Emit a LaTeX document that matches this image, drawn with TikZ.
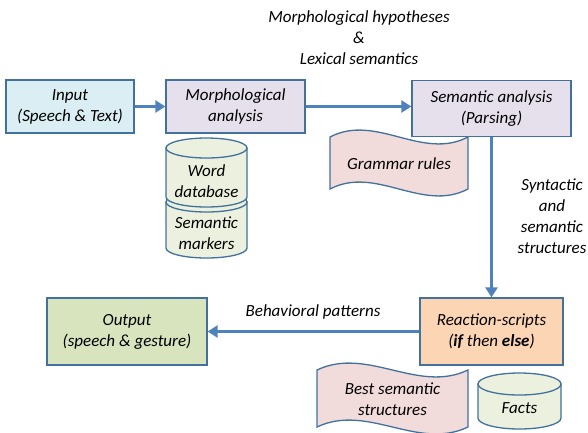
\documentclass[tikz,border=0pt]{standalone}
\usepackage{fontspec}
\setmainfont{Carlito}
\usetikzlibrary{arrows.meta}

\definecolor{boxline}{HTML}{41719C}
\definecolor{arrowblue}{HTML}{4F81BD}
\definecolor{inputfill}{HTML}{DBEEF4}
\definecolor{morphfill}{HTML}{E5E0EC}
\definecolor{cylfill}{HTML}{EBF1DE}
\definecolor{wavefill}{HTML}{F2DCDB}
\definecolor{reactfill}{HTML}{FCD5B5}
\definecolor{outputfill}{HTML}{D7E4BD}

\begin{document}
\begin{tikzpicture}[
    x=1pt, y=-1pt,
    every node/.style={font=\fontsize{17}{21}\selectfont\itshape, align=center},
    stepbox/.style={
        draw=boxline,
        line width=1.3pt,
        inner sep=0pt
    },
    shapeline/.style={draw=boxline, line width=1.3pt},
    flow/.style={draw=arrowblue, line width=3pt, -{Triangle[length=10pt,width=12pt]}}
]
\useasboundingbox (0,0) rectangle (588,432);

% ---------- macro to draw one wave (punched tape) shape ----------
% #1 = left x, #2 = right x, #3 = top y, #4 = bottom y
\newcommand{\wavebox}[4]{
    \pgfmathsetmacro{\wavea}{#1+(#2-#1)/3}
    \pgfmathsetmacro{\waveb}{#1+2*(#2-#1)/3}
    \path[shapeline, fill=wavefill] (#1,#3) .. controls (\wavea,#3-24) and (\waveb,#3+24) .. (#2,#3)
        -- (#2,#4) .. controls (\waveb,#4+24) and (\wavea,#4-24) .. (#1,#4) -- cycle;
}

% ---------- macro to draw one cylinder ----------
% #1 = left x, #2 = right x, #3 = top y, #4 = bottom y, #5 = ellipse radius
\newcommand{\cylinderbox}[5]{
    \pgfmathsetmacro{\cylmid}{(#1+#2)/2}
    \pgfmathsetmacro{\cylrad}{(#2-#1)/2}
    \path[shapeline, fill=cylfill] (#1,#3+#5) -- (#1,#4-#5)
        arc[start angle=180, end angle=360, x radius=\cylrad pt, y radius=#5pt]
        -- (#2,#3+#5) -- cycle;
    \path[shapeline, fill=cylfill] (\cylmid,#3+#5) ellipse[x radius=\cylrad pt, y radius=#5pt];
}

% ---------- top row ----------
\node[stepbox, fill=inputfill, minimum width=128pt, minimum height=53pt] (inputbox) at (70,106.5) {Input\\(Speech \& Text)};
\node[stepbox, fill=morphfill, minimum width=139pt, minimum height=53pt] (morph) at (235.5,106.5) {Morphological\\analysis};
\node[stepbox, fill=morphfill, minimum width=159pt, minimum height=56pt] (semantic) at (491.5,108.5) {Semantic analysis\\(Parsing)};

\node (hyplabel) at (359,37.5) {Morphological hypotheses\\\&\\Lexical semantics};

% ---------- databases and rules ----------
\cylinderbox{166}{247}{192}{258}{10}
\cylinderbox{166}{247}{138}{207}{10}
\node (worddb) at (206.5,181.5) {Word\\database};
\node (markers) at (206.5,233) {Semantic\\markers};

\wavebox{330}{468}{137}{189}
\node (grammar) at (399,164) {Grammar rules};

% ---------- bottom row ----------
\node[stepbox, fill=reactfill, minimum width=143pt, minimum height=67pt] (reaction) at (491.5,331.5) {Reaction-scripts\\(\textbf{if} then \textbf{else})};
\node[stepbox, fill=outputfill, minimum width=160pt, minimum height=67pt] (output) at (127,331.5) {Output\\(speech \& gesture)};

\wavebox{317}{468}{370}{427}
\node (bestsem) at (392.5,399) {Best semantic\\structures};

\cylinderbox{478}{561}{373}{429}{11}
\node (facts) at (519.5,408) {Facts};

% ---------- connectors ----------
\draw[flow] (inputbox) -- (morph);
\draw[flow] (morph.east) -- (morph.east -| semantic.west);
\draw[flow] (semantic) -- (reaction);
\draw[flow] (reaction) -- (output);

\node (synlabel) at (552,216) {Syntactic\\and\\semantic\\structures};
\node (behlabel) at (313,312) {Behavioral patterns};

\end{tikzpicture}
\end{document}
